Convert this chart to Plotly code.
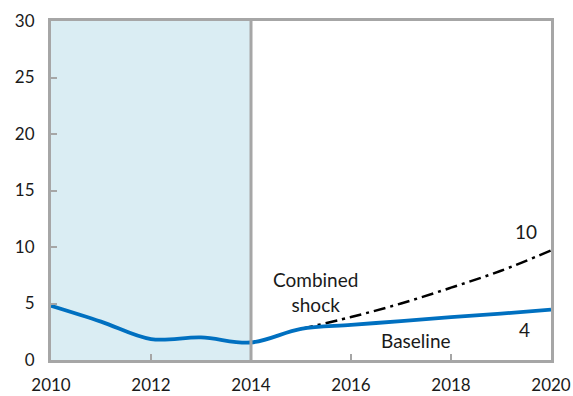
import plotly.graph_objects as go

# Annual series
years = [2010, 2011, 2012, 2013, 2014, 2015, 2016, 2017, 2018, 2019, 2020]
baseline = [4.8, 3.4, 1.85, 2.0, 1.55, 2.75, 3.1, 3.45, 3.8, 4.1, 4.45]

shock_years = [2015, 2016, 2017, 2018, 2019, 2020]
combined_shock = [2.75, 3.8, 5.0, 6.4, 7.9, 9.7]

x_ticks = [2010, 2012, 2014, 2016, 2018, 2020]
y_ticks = [0, 5, 10, 15, 20, 25, 30]

history_start, history_end = 2010, 2014

FONT = "Lato"
GREY = "#a6a6a6"

fig = go.Figure()

fig.add_trace(go.Scatter(
    x=shock_years, y=combined_shock, mode="lines",
    line=dict(color="black", width=2.5, dash="12px,5px,3px,5px", shape="spline"),
    showlegend=False, hoverinfo="skip"))

fig.add_trace(go.Scatter(
    x=years, y=baseline, mode="lines",
    line=dict(color="#0070c0", width=3.8, shape="spline", smoothing=1.0),
    showlegend=False, hoverinfo="skip"))

# Historical period shading
fig.add_shape(type="rect", xref="x", yref="y",
              x0=history_start, x1=history_end, y0=0, y1=30,
              fillcolor="#daedf3", line_width=0, layer="below")
fig.add_shape(type="line", xref="x", yref="y",
              x0=history_end, x1=history_end, y0=0, y1=30,
              line=dict(color=GREY, width=3), layer="above")

txt = dict(family=FONT, size=19, color="#1a1a1a")
fig.add_annotation(x=2015.28, y=6.0, text="Combined<br>shock", showarrow=False,
                   font=txt, xref="x", yref="y", align="center")
fig.add_annotation(x=2017.29, y=1.73, text="Baseline", showarrow=False,
                   font=txt, xref="x", yref="y")
fig.add_annotation(x=2019.5, y=11.37, text=f"{round(combined_shock[-1])}",
                   showarrow=False, font=txt, xref="x", yref="y")
fig.add_annotation(x=2019.46, y=2.74, text=f"{round(baseline[-1])}",
                   showarrow=False, font=txt, xref="x", yref="y")

axis_common = dict(showline=True, linecolor=GREY, linewidth=3, mirror=True,
                   showgrid=False, zeroline=False, ticks="inside",
                   ticklen=6, tickwidth=2, tickcolor=GREY, automargin=False,
                   tickfont=dict(family=FONT, size=17, color="#1a1a1a"))

fig.update_xaxes(range=[2010, 2020], tickvals=x_ticks,
                 ticktext=[str(v) for v in x_ticks],
                 ticklabelstandoff=8, **axis_common)
fig.update_yaxes(range=[0, 30], tickvals=y_ticks,
                 ticktext=[str(v) for v in y_ticks],
                 ticklabelstandoff=10, **axis_common)

fig.update_layout(
    width=573, height=396,
    margin=dict(l=51, r=22, t=21, b=36),
    plot_bgcolor="white", paper_bgcolor="white",
)

fig.write_html("out.html")
